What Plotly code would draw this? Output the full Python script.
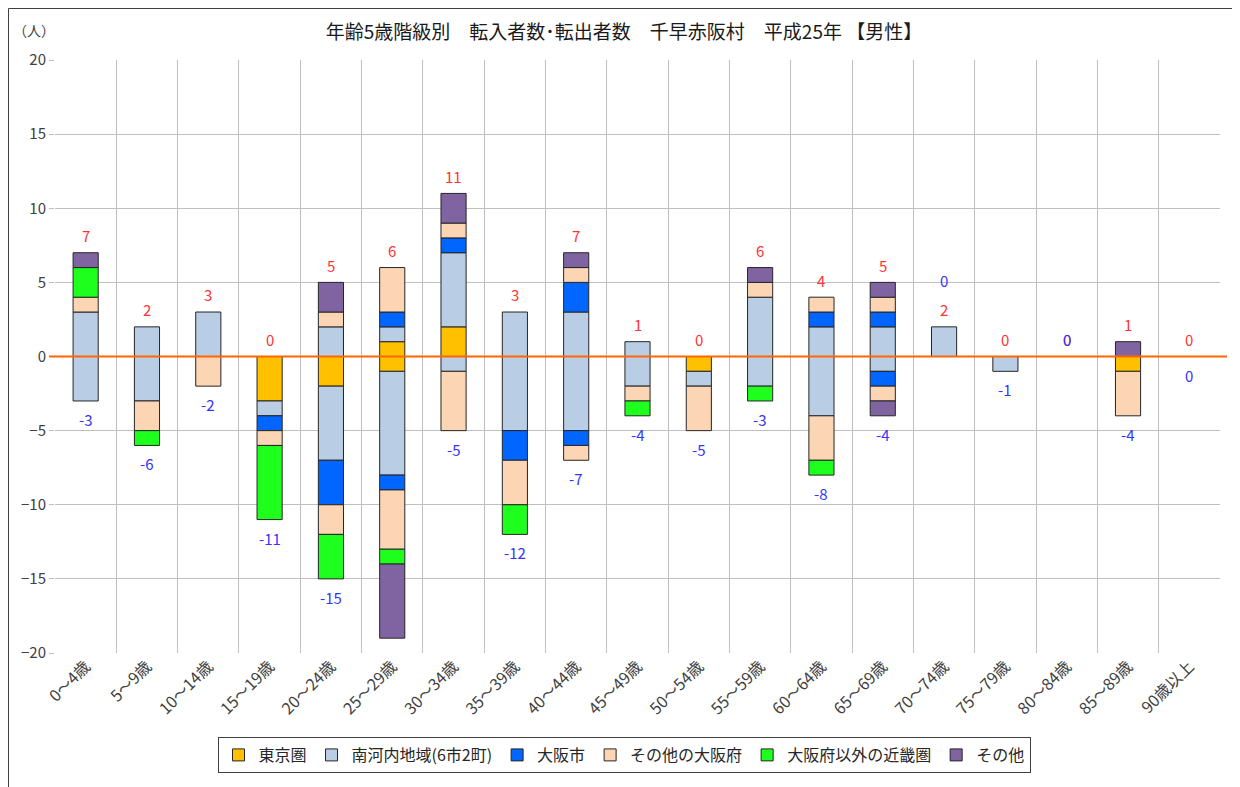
import plotly.graph_objects as go

categories = ["0〜4歳", "5〜9歳", "10〜14歳", "15〜19歳", "20〜24歳", "25〜29歳",
              "30〜34歳", "35〜39歳", "40〜44歳", "45〜49歳", "50〜54歳", "55〜59歳",
              "60〜64歳", "65〜69歳", "70〜74歳", "75〜79歳", "80〜84歳", "85〜89歳",
              "90歳以上"]

series_names = ["東京圏", "南河内地域(6市2町)", "大阪市", "その他の大阪府",
                "大阪府以外の近畿圏", "その他"]

# 転入 (in, positive)
tokyo_in = [0, 0, 0, 0, 0, 1, 2, 0, 0, 0, 0, 0, 0, 0, 0, 0, 0, 0, 0]
minami_in = [3, 2, 3, 0, 2, 1, 5, 3, 3, 1, 0, 4, 2, 2, 2, 0, 0, 0, 0]
osakacity_in = [0, 0, 0, 0, 0, 1, 1, 0, 2, 0, 0, 0, 1, 1, 0, 0, 0, 0, 0]
otherosaka_in = [1, 0, 0, 0, 1, 3, 1, 0, 1, 0, 0, 1, 1, 1, 0, 0, 0, 0, 0]
kinki_in = [2, 0, 0, 0, 0, 0, 0, 0, 0, 0, 0, 0, 0, 0, 0, 0, 0, 0, 0]
other_in = [1, 0, 0, 0, 2, 0, 2, 0, 1, 0, 0, 1, 0, 1, 0, 0, 0, 1, 0]

# 転出 (out, negative)
tokyo_out = [0, 0, 0, -3, -2, -1, 0, 0, 0, 0, -1, 0, 0, 0, 0, 0, 0, -1, 0]
minami_out = [-3, -3, 0, -1, -5, -7, -1, -5, -5, -2, -1, -2, -4, -1, 0, -1, 0, 0, 0]
osakacity_out = [0, 0, 0, -1, -3, -1, 0, -2, -1, 0, 0, 0, 0, -1, 0, 0, 0, 0, 0]
otherosaka_out = [0, -2, -2, -1, -2, -4, -4, -3, -1, -1, -3, 0, -3, -1, 0, 0, 0, -3, 0]
kinki_out = [0, -1, 0, -5, -3, -1, 0, -2, 0, -1, 0, -1, -1, 0, 0, 0, 0, 0, 0]
other_out = [0, 0, 0, 0, 0, -5, 0, 0, 0, 0, 0, 0, 0, -1, 0, 0, 0, 0, 0]

y_ticks = [-20, -15, -10, -5, 0, 5, 10, 15, 20]

ins = [tokyo_in, minami_in, osakacity_in, otherosaka_in, kinki_in, other_in]
outs = [tokyo_out, minami_out, osakacity_out, otherosaka_out, kinki_out, other_out]
colors = ["#FFC000", "#B9CDE5", "#0066FF", "#FCD5B5", "#1EFF1E", "#8064A2"]

FONT = "Noto Sans CJK JP"

fig = go.Figure()
for name, vin, vout, col in zip(series_names, ins, outs, colors):
    for vals, show in ((vin, True), (vout, False)):
        fig.add_trace(go.Bar(
            x=categories,
            y=[v if v != 0 else None for v in vals],
            name=name,
            legendgroup=name,
            showlegend=show,
            marker=dict(color=col, line=dict(color="#262626", width=1)),
            width=0.41,
            hoverinfo="x+y+name",
        ))

# page body has an 8px margin: lay out in figure coordinates = page - 8
OFF = 8
W, H = 1240 - OFF, 787 - OFF
L, R, T, B = 55 - OFF, 20, 60 - OFF, 134
pw, ph = W - L - R, H - T - B

def px_x(page_x):
    return (page_x - OFF - L) / pw

def px_y(page_y):
    return (T + ph - (page_y - OFF)) / ph

# totals and labels
pos_tot = [sum(s[i] for s in ins) for i in range(len(categories))]
neg_tot = [sum(s[i] for s in outs) for i in range(len(categories))]
neg_label_above = {"70〜74歳", "80〜84歳"}

annotations = []
for i, c in enumerate(categories):
    py = pos_tot[i] + 1.15
    annotations.append(dict(x=c, y=py, xref="x", yref="y", text=str(pos_tot[i]),
                            showarrow=False, font=dict(color="#FF3333", size=15, family=FONT)))
    if c in neg_label_above:
        ny = py + (2.0 if pos_tot[i] > 0 else 0.0)
    else:
        ny = neg_tot[i] - 1.25
    annotations.append(dict(x=c, y=ny, xref="x", yref="y", text=str(neg_tot[i]),
                            showarrow=False, font=dict(color="#3333FF", size=15, family=FONT)))

annotations.append(dict(x=px_x(34), y=px_y(30), xref="paper", yref="paper", text="（人）",
                        showarrow=False, xanchor="center", yanchor="middle",
                        font=dict(size=14, color="#404040", family=FONT)))

shapes = [
    dict(type="line", xref="paper", yref="y", x0=px_x(49), x1=px_x(1227), y0=0, y1=0,
         line=dict(color="#FF6600", width=2), layer="above"),
    dict(type="rect", xref="paper", yref="paper",
         x0=px_x(8.5), x1=px_x(1236.5),
         y0=px_y(800), y1=px_y(8.5),
         line=dict(color="#404040", width=1), fillcolor="rgba(0,0,0,0)", layer="below"),
]

fig.update_layout(
    width=W, height=H,
    margin=dict(l=L, r=R, t=T, b=B),
    barmode="relative",
    paper_bgcolor="white", plot_bgcolor="white",
    font=dict(family=FONT, color="#404040", size=14),
    title=dict(text="年齢5歳階級別　転入者数･転出者数　千早赤阪村　平成25年 【男性】",
               x=(624 - OFF) / W, xanchor="center", y=1 - (32 - OFF) / H, yanchor="middle",
               font=dict(size=19, color="#1a1a1a", family=FONT)),
    xaxis=dict(type="category", tickson="boundaries", showgrid=True, gridcolor="#BFBFBF",
               gridwidth=1, tickangle=-45, ticks="", showline=False, zeroline=False,
               tickfont=dict(size=16, color="#404040", family=FONT)),
    yaxis=dict(range=[-20, 20], tickvals=y_ticks, showgrid=True, gridcolor="#BFBFBF",
               gridwidth=1, zeroline=False, ticks="outside", ticklen=5, tickcolor="#BFBFBF",
               tickfont=dict(size=15, color="#404040", family=FONT), showline=False),
    legend=dict(orientation="h", x=px_x(624), xanchor="center",
                y=px_y(737), yanchor="top",
                bordercolor="#404040", borderwidth=1, bgcolor="white",
                font=dict(size=16, color="#262626", family=FONT),
                traceorder="normal", itemwidth=30),
    annotations=annotations,
    shapes=shapes,
    showlegend=True,
)

fig.write_html("out.html")
